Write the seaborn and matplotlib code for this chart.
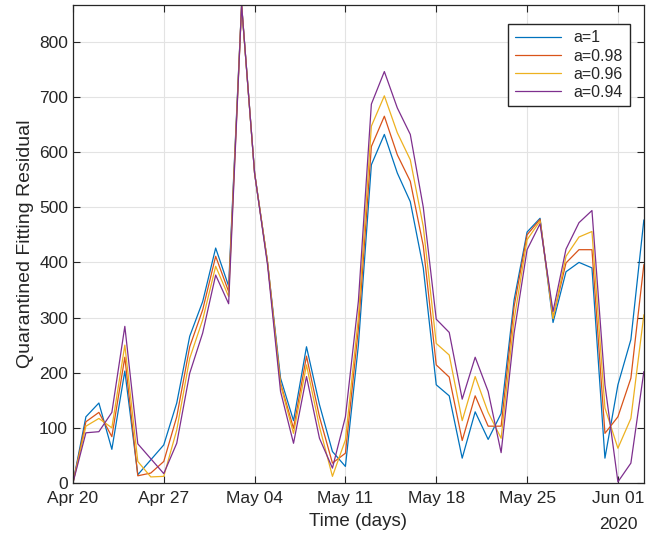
import pandas as pd
import seaborn as sns
import matplotlib.pyplot as plt

# daily values, Apr 20 - Jun 03 2020
dates = pd.date_range('2020-04-20', periods=45, freq='D')

res_a100 = [0, 120, 145, 61, 203, 15, 42, 69, 145, 266, 329, 426, 357, 867, 562,
            400, 190, 113, 247, 142, 57, 30, 250, 577, 632, 562, 510, 390, 178, 158,
            45, 129, 79, 126, 332, 455, 480, 291, 383, 400, 390, 45, 178, 260, 477]
res_a098 = [0, 111, 128, 84, 228, 13, 18, 39, 120, 247, 314, 411, 347, 866, 562,
            400, 181, 99, 230, 120, 36, 54, 280, 610, 665, 595, 547, 430, 214, 192,
            77, 158, 103, 103, 320, 450, 478, 300, 399, 423, 423, 90, 120, 190, 396]
res_a096 = [0, 103, 117, 100, 250, 39, 11, 12, 96, 226, 296, 393, 338, 866, 562,
            400, 178, 90, 214, 102, 12, 78, 300, 647, 702, 635, 586, 465, 253, 232,
            113, 193, 128, 81, 296, 441, 475, 298, 411, 446, 456, 136, 63, 117, 305]
res_a094 = [0, 91, 93, 128, 284, 71, 44, 17, 72, 199, 272, 377, 325, 867, 562,
            395, 166, 72, 193, 81, 27, 120, 330, 687, 746, 680, 632, 500, 297, 273,
            152, 228, 166, 55, 272, 423, 470, 311, 424, 472, 494, 178, 2, 36, 202]

labels = ['a=1', 'a=0.98', 'a=0.96', 'a=0.94']
colors = ['#0072BD', '#D95319', '#EDB120', '#7E2F8E']
tick_dates = dates[::7]
tick_labels = [d.strftime('%b %d') for d in tick_dates]

df = pd.concat([pd.DataFrame({'date': dates, 'residual': v, 'series': lab})
                for v, lab in zip([res_a100, res_a098, res_a096, res_a094], labels)])

sns.set_style('whitegrid', {'grid.color': '#e3e3e3', 'axes.edgecolor': '#262626',
                            'xtick.bottom': True, 'ytick.left': True,
                            'xtick.top': True, 'ytick.right': True,
                            'xtick.direction': 'in', 'ytick.direction': 'in'})
plt.rcParams['font.family'] = ['Liberation Sans', 'DejaVu Sans']

fig, ax = plt.subplots(figsize=(6.57, 5.37), dpi=100)
fig.subplots_adjust(left=0.111, right=0.980, top=0.991, bottom=0.1006)

sns.lineplot(data=df, x='date', y='residual', hue='series', palette=colors,
             linewidth=0.9, ax=ax)

ax.set_xlim(dates[0], dates[-1])
ax.set_ylim(0, 867)
ax.set_xticks(tick_dates)
ax.set_xticklabels(tick_labels)
ax.set_yticks(range(0, 801, 100))
ax.tick_params(labelsize=12.5, colors='#262626', length=5, width=0.8,
               top=True, right=True, direction='in')
ax.tick_params(axis='x', pad=6)
for s in ax.spines.values():
    s.set_color('#262626')
    s.set_linewidth(0.9)
ax.grid(True, color='#e3e3e3', linewidth=0.8)

ax.set_xlabel('Time (days)', fontsize=13.5, color='#262626', labelpad=5)
ax.set_ylabel('Quarantined Fitting Residual', fontsize=14, color='#262626', labelpad=4)
ax.text(tick_dates[-1], -0.086, '2020', transform=ax.get_xaxis_transform(),
        ha='center', va='center', fontsize=12.5, color='#262626')

ax.legend(loc='upper right', bbox_to_anchor=(0.975, 0.96), fontsize=11.5,
          frameon=True, fancybox=False, framealpha=1, edgecolor='#262626',
          handlelength=2.9, borderaxespad=0, labelspacing=0.2, title=None)

fig.savefig('out.png', dpi=100)
